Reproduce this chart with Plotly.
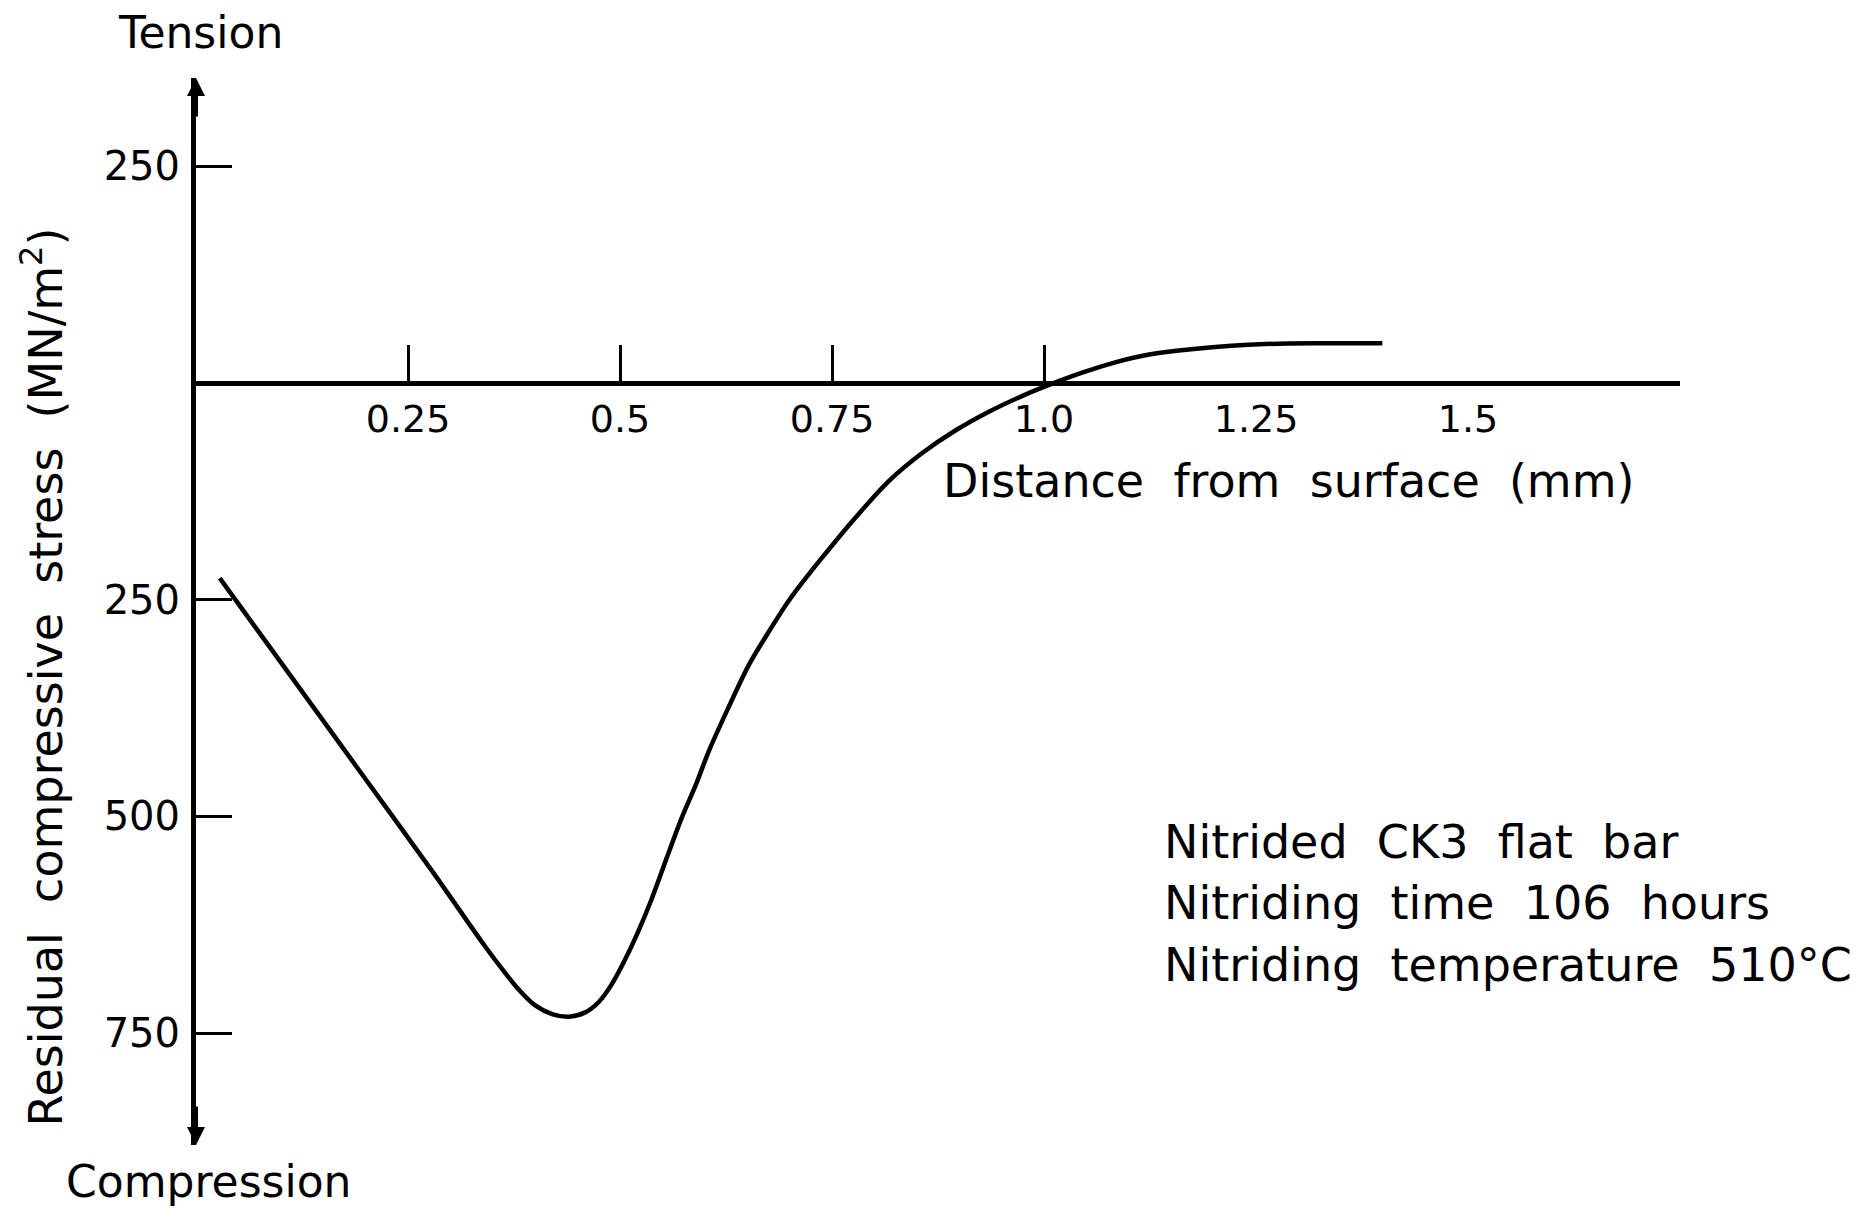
import plotly.graph_objects as go

# residual stress profile (mm, MN/m^2; compression negative)
distance_mm = [0.028, 0.12, 0.20, 0.28, 0.341, 0.365, 0.381, 0.40, 0.42, 0.44,
               0.459, 0.475, 0.49, 0.505, 0.52, 0.537, 0.555, 0.573, 0.59, 0.605,
               0.629, 0.652, 0.676, 0.699, 0.723, 0.742, 0.777, 0.817, 0.856, 0.895,
               0.935, 0.974, 1.009, 1.045, 1.084, 1.124, 1.183, 1.261, 1.33, 1.399]
stress = [-225, -349, -457, -565, -650, -681, -700, -718, -728, -731,
          -726, -714, -694, -667, -636, -596, -548, -501, -462, -424,
          -372, -325, -286, -251, -220, -197, -156, -113, -81, -55,
          -33, -15, -1, 12, 24, 33, 40, 45, 46, 46]

x_tickvals = [0.25, 0.5, 0.75, 1.0, 1.25, 1.5]
x_ticktext = ["0.25", "0.5", "0.75", "1.0", "1.25", "1.5"]
x_marked = [0.25, 0.5, 0.75, 1.0]   # only these carry a tick mark

y_tickvals = [250, -250, -500, -750]
y_ticktext = ["250", "250", "500", "750"]

notes = ["Nitrided  CK3  flat  bar",
         "Nitriding  time  106  hours",
         "Nitriding  temperature  510°C"]

x_range = [0, 1.75]
y_range = [-879, 352]

FONT = "DejaVu Sans"


def gaps(s):
    # the lettering uses wide word gaps; keep them with non-breaking spaces
    return s.replace(" ", "\u00a0")


fig = go.Figure()

fig.add_trace(go.Scatter(
    x=distance_mm, y=stress,
    mode="lines",
    line=dict(color="black", width=4.5, shape="spline", smoothing=1.0),
    showlegend=False,
    hoverinfo="skip"
))

# x axis sits on the zero line
zero_pos = (0 - y_range[0]) / (y_range[1] - y_range[0])

fig.update_xaxes(
    range=x_range,
    anchor="free", position=zero_pos,
    showline=True, linecolor="black", linewidth=5,
    showgrid=False, zeroline=False,
    tickmode="array", tickvals=x_tickvals, ticktext=x_ticktext,
    ticks="",
    ticklabelstandoff=0,
    tickfont=dict(family=FONT, size=38, color="black"),
    minor=dict(tickmode="array", tickvals=x_marked, ticks="inside",
               ticklen=36, tickwidth=3, tickcolor="black", showgrid=False),
    automargin=False,
)

fig.update_yaxes(
    range=y_range,
    showline=True, linecolor="black", linewidth=5,
    showgrid=False, zeroline=False,
    tickmode="array", tickvals=y_tickvals, ticktext=y_ticktext,
    ticks="inside", ticklen=36, tickwidth=3, tickcolor="black",
    ticklabelstandoff=3,
    tickfont=dict(family=FONT, size=40, color="black"),
    automargin=False,
)

# arrowheads on both ends of the stress axis
for tip, tail in ((y_range[1], 40), (y_range[0], -40)):
    fig.add_annotation(x=0, y=tip, ax=0, ay=tail, xref="x", yref="y",
                       showarrow=True, arrowhead=2, arrowsize=0.9, arrowwidth=4,
                       arrowcolor="black", text="")

txt = dict(family=FONT, size=46, color="black")

fig.add_annotation(text="Tension", x=0.003, y=1.043, xref="paper", yref="paper",
                   showarrow=False, font=dict(family=FONT, size=44, color="black"),
                   xanchor="center", yanchor="middle")
fig.add_annotation(text="Compression", x=0.009, y=-0.034, xref="paper", yref="paper",
                   showarrow=False, font=dict(family=FONT, size=44, color="black"),
                   xanchor="center", yanchor="middle")
fig.add_annotation(text=gaps("Residual  compressive  stress  (MN/m<sup>2</sup>)"),
                   x=-0.1035, y=0.4386, xref="paper", yref="paper", textangle=-90,
                   showarrow=False, font=txt, xanchor="center", yanchor="middle")
fig.add_annotation(text=gaps("Distance  from  surface  (mm)"), x=0.502, y=0.6223,
                   xref="paper", yref="paper", showarrow=False, font=txt,
                   xanchor="left", yanchor="middle")

for i, line in enumerate(notes):
    fig.add_annotation(text=gaps(line), x=0.651, y=0.284 - i * 0.0575,
                       xref="paper", yref="paper", showarrow=False, font=txt,
                       xanchor="left", yanchor="middle")

fig.update_layout(
    width=1873, height=1208,
    margin=dict(l=196, r=193, t=78, b=63),
    paper_bgcolor="white", plot_bgcolor="white",
    showlegend=False,
)

# drop the browser's default body margin so the figure fills the window exactly
fig.write_html("out.html", config={"displayModeBar": False},
               post_script="document.body.style.margin='0';")
